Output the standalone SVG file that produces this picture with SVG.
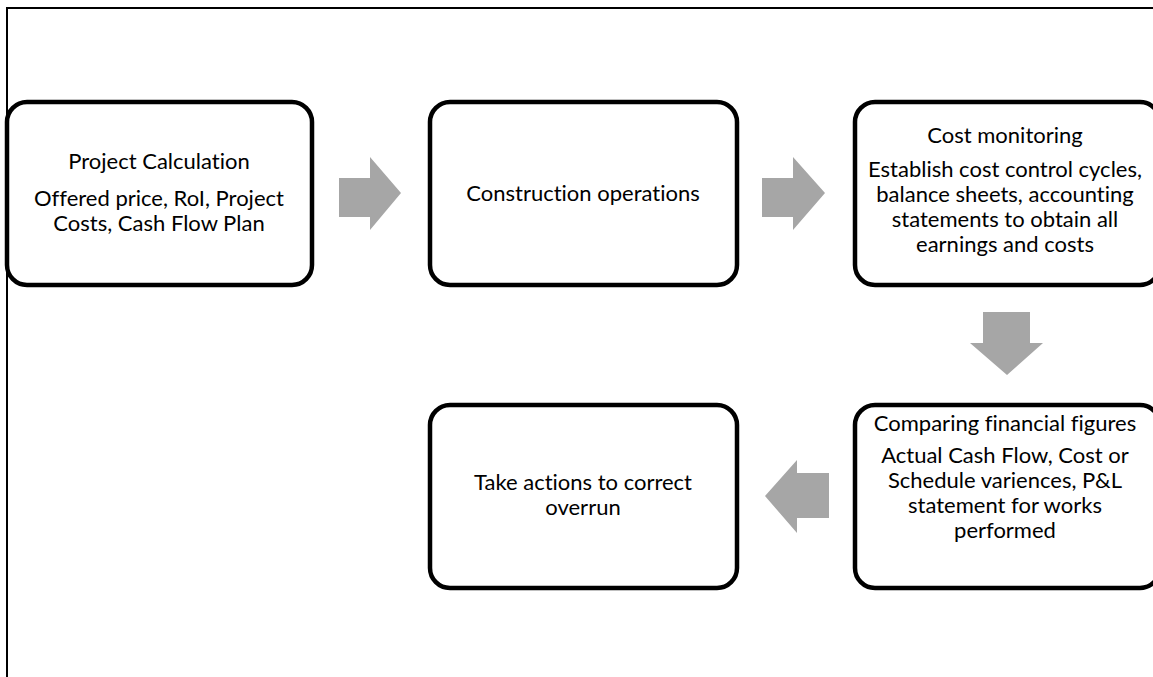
<svg xmlns="http://www.w3.org/2000/svg" width="1153" height="677" viewBox="0 0 1153 677">
  <style>
    .frame { fill: none; stroke: #000; stroke-width: 2; }
    .box { fill: #fff; stroke: #000; stroke-width: 4.5; }
    .arrow { fill: #a6a6a6; stroke: none; }
    text { font-family: Lato, "Liberation Sans", sans-serif; font-size: 22px; fill: #000; text-anchor: middle; font-variant-ligatures: none; }
  </style>
  <rect width="1153" height="677" fill="#fff"/>
  <!-- outer frame (right and bottom edges fall outside the page) -->
  <rect class="frame" x="7" y="8" width="1160" height="690"/>

  <g id="connectors">
    <polygon class="arrow" points="339,178 370,178 370,157 401,193 370,230 370,217 339,217"/>
    <polygon class="arrow" points="762,178 793,178 793,157 825,193 793,230 793,217 762,217"/>
    <polygon class="arrow" points="983,312 1030,312 1030,343 1043,343 1007,375 970,343 983,343"/>
    <polygon class="arrow" points="829,473 797,473 797,460 765,496 797,533 797,518 829,518"/>
  </g>

  <g id="project-calculation">
    <rect class="box" x="7" y="102" width="305" height="183" rx="20"/>
    <text x="159" y="169">Project Calculation</text>
    <text x="159" y="206">Offered price, RoI, Project</text>
    <text x="159" y="231">Costs, Cash Flow Plan</text>
  </g>

  <g id="construction-operations">
    <rect class="box" x="430" y="102" width="307" height="183" rx="20"/>
    <text x="583" y="201">Construction operations</text>
  </g>

  <g id="cost-monitoring">
    <rect class="box" x="855" y="102" width="305" height="183" rx="20"/>
    <text x="1005" y="143">Cost monitoring</text>
    <text x="1005" y="177">Establish cost control cycles,</text>
    <text x="1005" y="202">balance sheets, accounting</text>
    <text x="1005" y="227">statements to obtain all</text>
    <text x="1005" y="252">earnings and costs</text>
  </g>

  <g id="comparing-financial-figures">
    <rect class="box" x="855" y="405" width="305" height="183" rx="20"/>
    <text x="1005" y="431">Comparing financial figures</text>
    <text x="1005" y="463">Actual Cash Flow, Cost or</text>
    <text x="1005" y="488">Schedule variences, P&amp;L</text>
    <text x="1005" y="513">statement for works</text>
    <text x="1005" y="538">performed</text>
  </g>

  <g id="take-actions">
    <rect class="box" x="430" y="405" width="307" height="183" rx="20"/>
    <text x="583" y="490">Take actions to correct</text>
    <text x="583" y="515">overrun</text>
  </g>
</svg>
